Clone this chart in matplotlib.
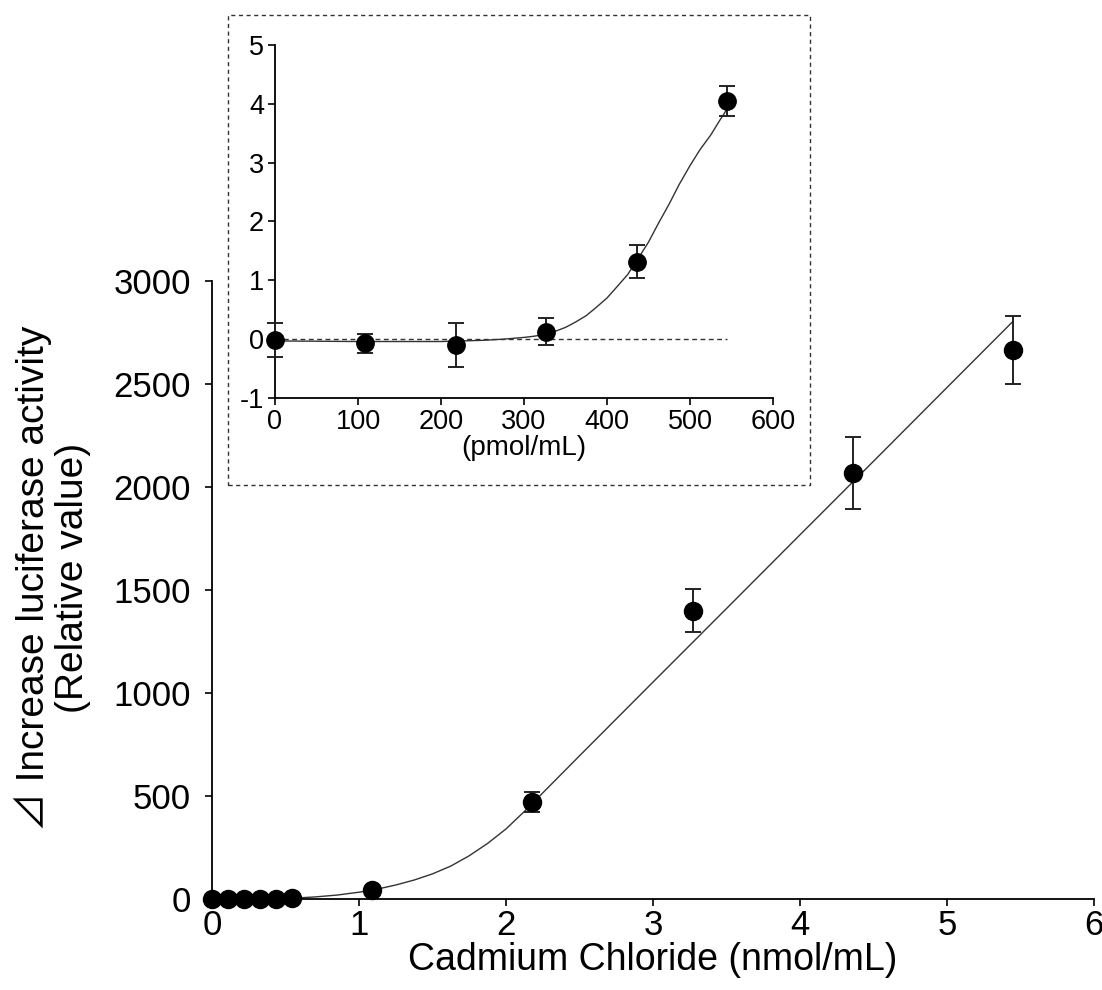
import matplotlib
matplotlib.use("Agg")
import matplotlib.pyplot as plt
from matplotlib.patches import Rectangle

plt.rcParams['font.family'] = ['Liberation Sans', 'Noto Sans CJK JP', 'DejaVu Sans']
plt.rcParams['axes.unicode_minus'] = False

# ---- main panel data (nmol/mL) ----
main_x = [0, 0.109, 0.218, 0.327, 0.436, 0.545, 1.09, 2.18, 3.27, 4.36, 5.45]
main_y = [-0.02, -0.07, -0.10, 0.13, 1.32, 4.05, 42, 470, 1400, 2070, 2665]
main_err = [0.29, 0.16, 0.38, 0.23, 0.28, 0.26, 8, 48, 105, 175, 167]

# fitted curve
main_fit_x = [0, 0.3, 0.55, 0.7, 0.85, 1.0, 1.125, 1.25, 1.375, 1.5, 1.625, 1.75,
              1.875, 2.0, 2.125, 2.25, 2.375, 2.5, 2.75, 3.0, 3.5, 4.0, 4.5, 5.0, 5.45]
main_fit_y = [0, 0.03, 4, 10, 19, 33, 48, 68, 92, 122, 160, 210,
              270, 340, 425, 515, 605, 695, 874, 1053, 1410, 1768, 2125, 2483, 2805]

main_xticks = [0, 1, 2, 3, 4, 5, 6]
main_yticks = [0, 500, 1000, 1500, 2000, 2500, 3000]

# ---- inset data (pmol/mL) ----
ins_x = [0, 109, 218, 327, 436, 545]
ins_y = [-0.02, -0.07, -0.10, 0.13, 1.32, 4.05]
ins_err = [0.29, 0.16, 0.38, 0.23, 0.28, 0.26]

ins_fit_x = [0, 100, 200, 250, 275, 300, 312, 325, 337, 350, 362, 375, 387, 400,
             412, 425, 437, 450, 462, 475, 487, 500, 512, 525, 535, 545]
ins_fit_y = [-0.03, -0.04, -0.04, -0.02, 0.0, 0.03, 0.05, 0.08, 0.13, 0.2, 0.29, 0.4, 0.54, 0.7,
             0.89, 1.1, 1.36, 1.65, 1.97, 2.3, 2.63, 2.95, 3.22, 3.47, 3.7, 3.92]

ins_xticks = [0, 100, 200, 300, 400, 500, 600]
ins_yticks = [-1, 0, 1, 2, 3, 4, 5]

W, H = 1102, 990
fig = plt.figure(figsize=(W / 100, H / 100), dpi=100)

def box(l, t, r, b):
    return [l / W, 1 - b / H, (r - l) / W, (b - t) / H]

# ---- main axes ----
ax = fig.add_axes(box(212, 281, 1094, 899))
ax.plot(main_fit_x, main_fit_y, color='#333333', lw=1.0, zorder=2)
ax.errorbar(main_x, main_y, yerr=main_err, fmt='o', color='black', ms=13,
            ecolor='#222222', elinewidth=1.4, capsize=5.5, capthick=1.4,
            clip_on=False, zorder=3)
ax.set_xlim(0, 6)
ax.set_ylim(0, 3000)
ax.set_xticks(main_xticks)
ax.set_yticks(main_yticks)
for s in ['top', 'right']:
    ax.spines[s].set_visible(False)
for s in ['left', 'bottom']:
    ax.spines[s].set_linewidth(1.3)
ax.tick_params(direction='out', length=5, width=1.2, labelsize=25)
ax.tick_params(axis='y', pad=10)
ax.tick_params(axis='x', pad=2)
ax.set_xlabel('Cadmium Chloride (nmol/mL)', fontsize=27, labelpad=0)

fig.text(52 / W, 1 - 578 / H, '⊿ Increase luciferase activity\n(Relative value)',
         rotation=90, ha='center', va='center', multialignment='center',
         fontsize=28, linespacing=1.1)

# ---- dashed box around inset ----
fig.patches.append(Rectangle((228 / W, 1 - 485 / H), (810 - 228) / W, (485 - 15) / H,
                             transform=fig.transFigure, fill=False,
                             edgecolor='#333333', lw=1.0, linestyle=(0, (3, 2.5))))

# ---- inset axes ----
ai = fig.add_axes(box(275, 45, 773, 398))
ai.plot([0, 545], [0, 0], color='#333333', lw=1.0, linestyle=(0, (3.5, 2.5)), zorder=1)
ai.plot(ins_fit_x, ins_fit_y, color='#333333', lw=1.0, zorder=2)
ai.errorbar(ins_x, ins_y, yerr=ins_err, fmt='o', color='black', ms=12.5,
            ecolor='#222222', elinewidth=1.4, capsize=5.5, capthick=1.4,
            clip_on=False, zorder=3)
ai.set_xlim(0, 600)
ai.set_ylim(-1, 5)
ai.set_xticks(ins_xticks)
ai.set_yticks(ins_yticks)
ai.patch.set_alpha(0)
for s in ['top', 'right']:
    ai.spines[s].set_visible(False)
for s in ['left', 'bottom']:
    ai.spines[s].set_linewidth(1.3)
ai.tick_params(direction='out', length=5, width=1.2, labelsize=19.5, pad=3)
ai.set_xlabel('(pmol/mL)', fontsize=20, labelpad=0)

fig.savefig('out.png', dpi=100)
